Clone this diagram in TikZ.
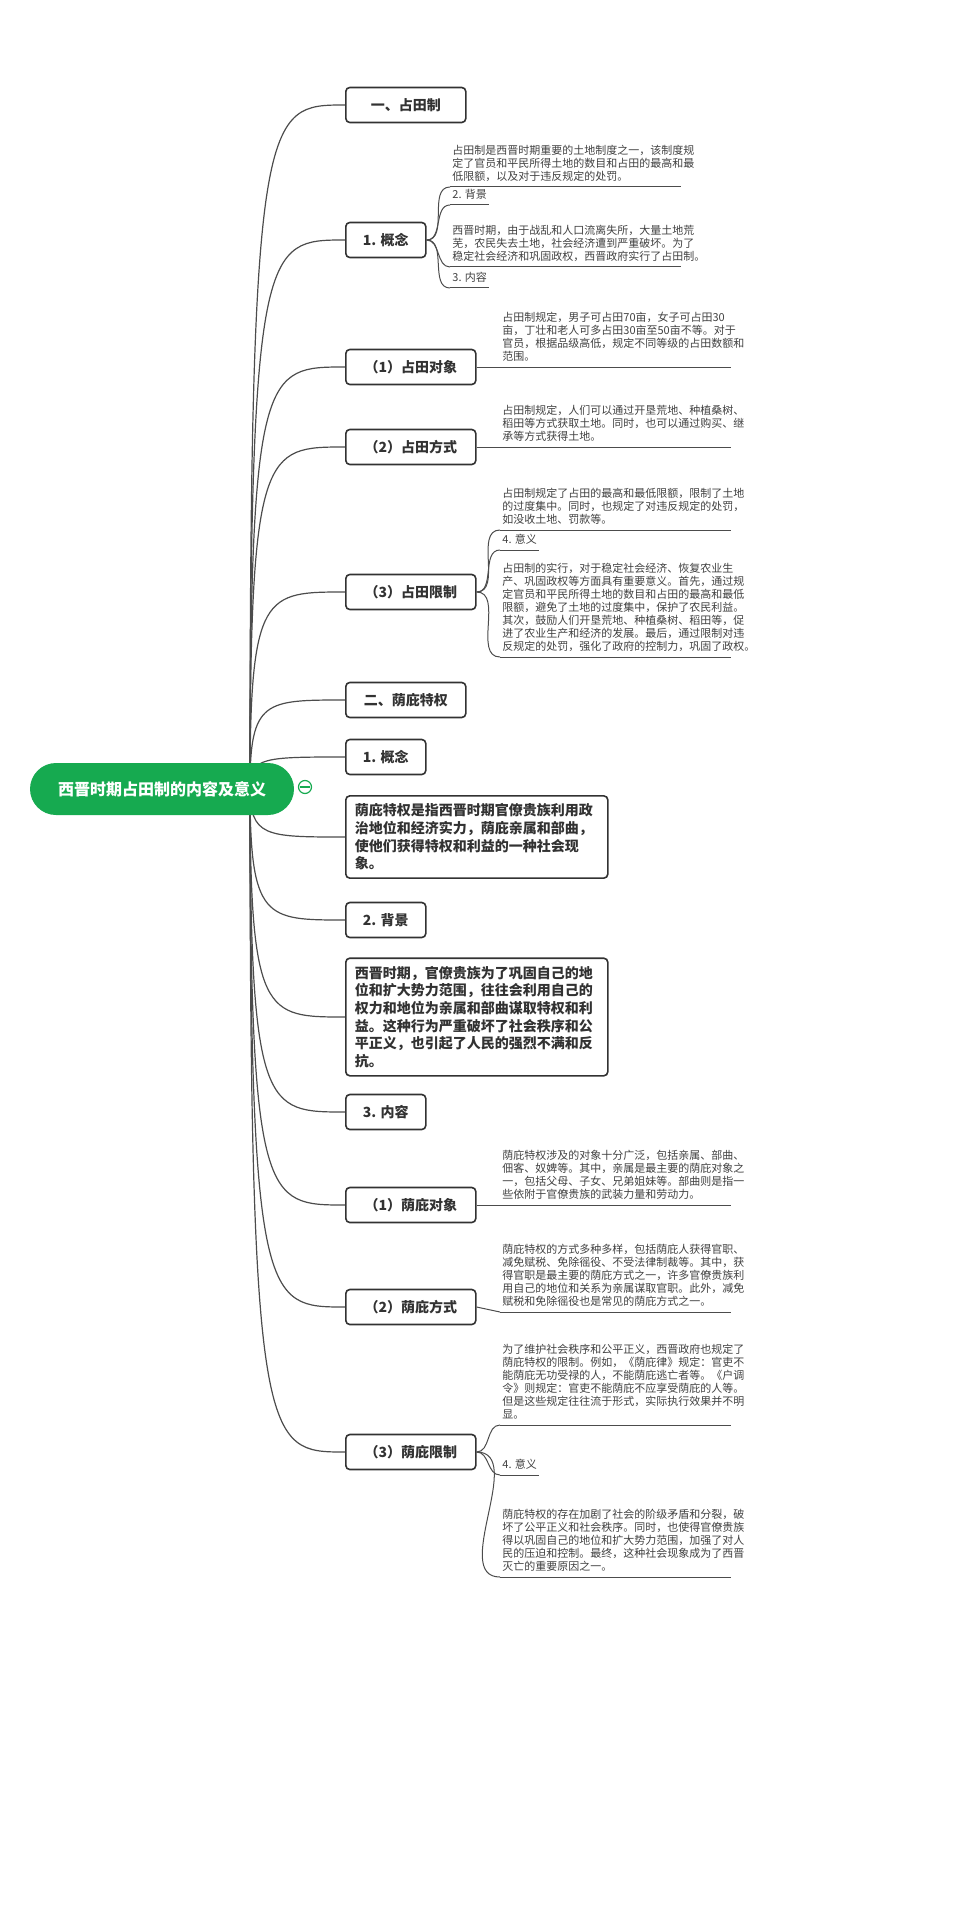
\documentclass[tikz,border=0pt]{standalone}
\usepackage{fontspec}
\setmainfont{Noto Sans CJK SC}
\definecolor{rootgreen}{RGB}{22,170,80}
\definecolor{ink}{RGB}{50,50,50}
\tikzset{
  box/.style={draw=ink,line width=0.8pt,rounded corners=2pt,anchor=west,align=left,
    inner xsep=4.5pt,minimum height=17.5pt,font=\fontsize{7}{8.8}\selectfont\bfseries,text=ink},
  bigbox/.style={box,inner ysep=4pt,text width=122pt},
  leaf/.style={anchor=south west,align=left,inner xsep=1pt,inner ysep=2.5pt,
    font=\fontsize{5.5}{6.5}\selectfont,text=black!75},
  longleaf/.style={leaf,text width=113pt},
  link/.style={draw=black!70,line width=0.6pt},
  sub/.style={link,line width=0.5pt}
}
\newcommand{\ul}[1]{\draw[sub] (#1.south west) -- (#1.south east);}
\begin{document}
\begin{tikzpicture}[x=0.5pt,y=-0.5pt]
\useasboundingbox (0,0) rectangle (958,1920);
% main boxes
\node[box,minimum width=60pt] (b1) at (345,105) {一、占田制};
\node[box,minimum width=40pt] (b2) at (345,240) {1. 概念};
\node[box,minimum width=65pt] (b3) at (345,367) {（1）占田对象};
\node[box,minimum width=65pt] (b4) at (345,447) {（2）占田方式};
\node[box,minimum width=65pt] (b5) at (345,592) {（3）占田限制};
\node[box,minimum width=60pt] (b6) at (345,700) {二、荫庇特权};
\node[box,minimum width=40pt] (b7) at (345,757) {1. 概念};
\node[bigbox] (b8) at (345,837) {荫庇特权是指西晋时期官僚贵族利用政\\治地位和经济实力，荫庇亲属和部曲，\\使他们获得特权和利益的一种社会现\\象。};
\node[box,minimum width=40pt] (b9) at (345,920) {2. 背景};
\node[bigbox] (b10) at (345,1017) {西晋时期，官僚贵族为了巩固自己的地\\位和扩大势力范围，往往会利用自己的\\权力和地位为亲属和部曲谋取特权和利\\益。这种行为严重破坏了社会秩序和公\\平正义，也引起了人民的强烈不满和反\\抗。};
\node[box,minimum width=40pt] (b11) at (345,1112) {3. 内容};
\node[box,minimum width=65pt] (b12) at (345,1205) {（1）荫庇对象};
\node[box,minimum width=65pt] (b13) at (345,1307) {（2）荫庇方式};
\node[box,minimum width=65pt] (b14) at (345,1452) {（3）荫庇限制};
% leaves
\node[longleaf] (l1) at (450,187) {占田制是西晋时期重要的土地制度之一，该制度规\\定了官员和平民所得土地的数目和占田的最高和最\\低限额，以及对于违反规定的处罚。};
\node[leaf] (l2) at (450,205) {2. 背景};
\node[longleaf] (l3) at (450,267) {西晋时期，由于战乱和人口流离失所，大量土地荒\\芜，农民失去土地，社会经济遭到严重破坏。为了\\稳定社会经济和巩固政权，西晋政府实行了占田制。};
\node[leaf] (l4) at (450,288) {3. 内容};
\node[longleaf] (l5) at (500,367) {占田制规定，男子可占田70亩，女子可占田30\\亩，丁壮和老人可多占田30亩至50亩不等。对于\\官员，根据品级高低，规定不同等级的占田数额和\\范围。};
\node[longleaf] (l6) at (500,447) {占田制规定，人们可以通过开垦荒地、种植桑树、\\稻田等方式获取土地。同时，也可以通过购买、继\\承等方式获得土地。};
\node[longleaf] (l7) at (500,530) {占田制规定了占田的最高和最低限额，限制了土地\\的过度集中。同时，也规定了对违反规定的处罚，\\如没收土地、罚款等。};
\node[leaf] (l8) at (500,550) {4. 意义};
\node[longleaf] (l9) at (500,657) {占田制的实行，对于稳定社会经济、恢复农业生\\产、巩固政权等方面具有重要意义。首先，通过规\\定官员和平民所得土地的数目和占田的最高和最低\\限额，避免了土地的过度集中，保护了农民利益。\\其次，鼓励人们开垦荒地、种植桑树、稻田等，促\\进了农业生产和经济的发展。最后，通过限制对违\\反规定的处罚，强化了政府的控制力，巩固了政权。};
\node[longleaf] (l10) at (500,1205) {荫庇特权涉及的对象十分广泛，包括亲属、部曲、\\佃客、奴婢等。其中，亲属是最主要的荫庇对象之\\一，包括父母、子女、兄弟姐妹等。部曲则是指一\\些依附于官僚贵族的武装力量和劳动力。};
\node[longleaf] (l11) at (500,1312) {荫庇特权的方式多种多样，包括荫庇人获得官职、\\减免赋税、免除徭役、不受法律制裁等。其中，获\\得官职是最主要的荫庇方式之一，许多官僚贵族利\\用自己的地位和关系为亲属谋取官职。此外，减免\\赋税和免除徭役也是常见的荫庇方式之一。};
\node[longleaf] (l12) at (500,1425) {为了维护社会秩序和公平正义，西晋政府也规定了\\荫庇特权的限制。例如，《荫庇律》规定：官吏不\\能荫庇无功受禄的人，不能荫庇逃亡者等。《户调\\令》则规定：官吏不能荫庇不应享受荫庇的人等。\\但是这些规定往往流于形式，实际执行效果并不明\\显。};
\node[leaf] (l13) at (500,1475) {4. 意义};
\node[longleaf] (l14) at (500,1577) {荫庇特权的存在加剧了社会的阶级矛盾和分裂，破\\坏了公平正义和社会秩序。同时，也使得官僚贵族\\得以巩固自己的地位和扩大势力范围，加强了对人\\民的压迫和控制。最终，这种社会现象成为了西晋\\灭亡的重要原因之一。};
\foreach \l in {l1,l2,l3,l4,l5,l6,l7,l8,l9,l10,l11,l12,l13,l14} {\ul{\l}}
% connectors
\coordinate (hub) at (250,787);
\foreach \b in {b1,b2,b3,b4,b5,b6,b7,b8,b9,b10,b11,b12,b13,b14}
  \draw[link] (hub) .. controls (hub |- \b.west) and ([xshift=-40]\b.west) .. (\b.west);
\foreach \l in {l1,l2,l3,l4} \draw[sub] (b2.east) to[out=0,in=180] (\l.south west);
\draw[sub] (b3.east) -- (l5.south west);
\draw[sub] (b4.east) -- (l6.south west);
\foreach \l in {l7,l8,l9} \draw[sub] (b5.east) to[out=0,in=180] (\l.south west);
\draw[sub] (b12.east) -- (l10.south west);
\draw[sub] (b13.east) -- (l11.south west);
\foreach \l in {l12,l13,l14} \draw[sub] (b14.east) to[out=0,in=180] (\l.south west);
% root
\node[fill=rootgreen,rounded corners=13pt,minimum width=132pt,minimum height=26pt,
  text=white,font=\fontsize{8}{9}\selectfont\bfseries] (root) at (162,789) {西晋时期占田制的内容及意义};
\draw[rootgreen,fill=white,line width=0.6pt] (305,787) circle (6.5);
\draw[rootgreen,line width=0.6pt] (300,787) -- (310,787);
\end{tikzpicture}
\end{document}
